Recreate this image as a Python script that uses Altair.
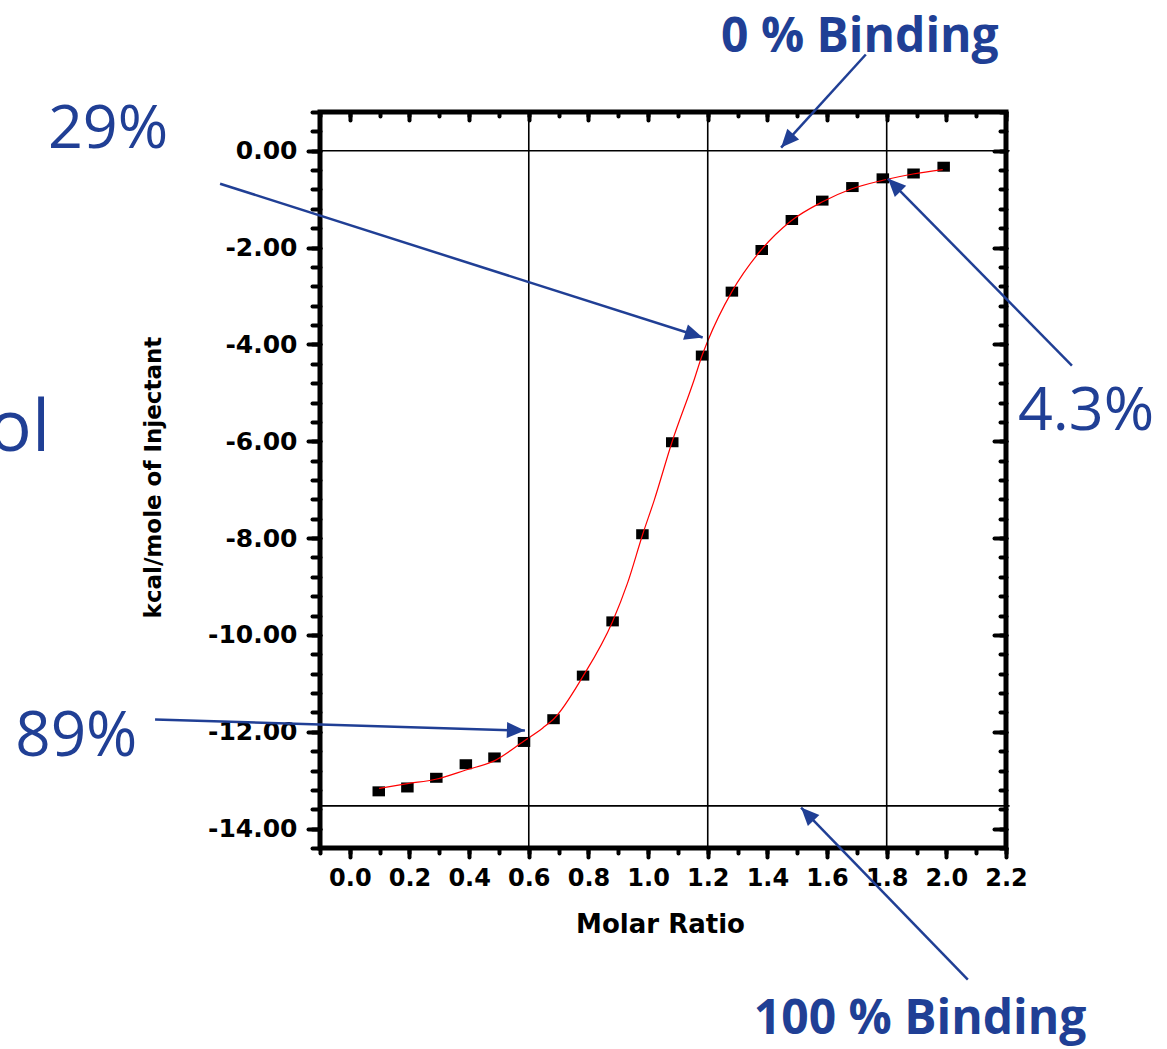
import math
import altair as alt
import pandas as pd

# Integrated heats per injection (kcal/mole of injectant) vs. molar ratio
ratio = [0.097, 0.193, 0.290, 0.389, 0.485, 0.584, 0.683, 0.782, 0.881, 0.981,
         1.081, 1.181, 1.281, 1.381, 1.482, 1.584, 1.685, 1.787, 1.890, 1.991]
heat = [-13.23, -13.15, -12.95, -12.67, -12.53, -12.21, -11.74, -10.84, -9.72, -7.92,
        -6.02, -4.23, -2.91, -2.05, -1.43, -1.03, -0.75, -0.57, -0.47, -0.33]

# Fitted binding isotherm
fit_ratio = [0.098, 0.193, 0.288, 0.389, 0.484, 0.584, 0.647, 0.686, 0.781, 0.881,
             0.931, 0.982, 1.021, 1.080, 1.155, 1.181, 1.200, 1.281, 1.379, 1.479,
             1.583, 1.681, 1.787, 1.888, 1.988]
fit_heat = [-13.17, -13.07, -12.98, -12.79, -12.60, -12.19, -11.92, -11.72, -10.86, -9.72,
            -8.93, -7.92, -7.21, -6.02, -4.72, -4.23, -3.93, -2.91, -2.05, -1.45,
            -1.06, -0.79, -0.61, -0.48, -0.39]

# Reference levels: 0 % and 100 % binding, and marked molar ratios
binding_levels = [0.0, -13.53]
ratio_marks = [0.6, 1.2, 1.8]

# Annotations
note_text = ["0 % Binding", "100 % Binding", "29%", "4.3%", "89%", "ol"]
note_x = [1.710, 1.912, -1.012, 2.240, -1.122, -1.005]
note_y = [2.049, -18.25, 0.066, -5.758, -12.51, -6.21]
note_size = [48, 48, 61, 61, 62, 72]
note_weight = ["bold", "bold", "normal", "normal", "normal", "normal"]
note_align = ["center", "center", "left", "left", "left", "right"]

arrow_x0 = [1.730, -0.435, 2.421, -0.653, 2.072]
arrow_y0 = [1.987, -0.681, -4.436, -11.748, -17.116]
arrow_x1 = [1.446, 1.183, 1.804, 0.587, 1.513]
arrow_y1 = [0.066, -3.858, -0.574, -11.975, -13.564]

# Tick values
x_major = [round(0.2 * i, 1) for i in range(12)]
x_minor = [round(-0.1 + 0.1 * i, 1) for i in range(24)]
y_major = [float(-2 * i) for i in range(8)]
y_minor = [round(0.8 - 0.4 * i, 1) for i in range(39)]

W, H = 686, 736
X_DOMAIN = [-0.1, 2.2]
Y_DOMAIN = [-14.4, 0.8]
BLUE = "#203F95"
PX_X = W / (X_DOMAIN[1] - X_DOMAIN[0])
PX_Y = H / (Y_DOMAIN[1] - Y_DOMAIN[0])

xs = alt.Scale(domain=X_DOMAIN, nice=False, zero=False)
ys = alt.Scale(domain=Y_DOMAIN, nice=False, zero=False)


def tick_axis(orient, values, size, offset=0):
    return alt.Axis(orient=orient, values=values, tickSize=size, offset=offset,
                    labels=False, title=None, domain=False, grid=False)


points_df = pd.DataFrame({"ratio": ratio, "heat": heat})
points = alt.Chart(points_df).mark_point(
    shape="M-1.25,-1H1.25V1H-1.25Z", size=100, filled=True, color="black", opacity=1
).encode(
    x=alt.X("ratio:Q", scale=xs, axis=alt.Axis(
        orient="bottom", values=x_major, tickSize=9, labelPadding=9, format=".1f",
        title="Molar Ratio", titleFontSize=26, titleX=340, titleY=84,
        titleBaseline="alphabetic", titleAlign="center")),
    y=alt.Y("heat:Q", scale=ys, axis=alt.Axis(
        orient="left", values=y_major, tickSize=12, labelPadding=11, labelFontSize=25,
        labelExpr="(datum.value < 0 ? '-' : '') + format(abs(datum.value), '.2f')",
        title="kcal/mole of Injectant", titleFontSize=23, titleX=-167, titleY=365,
        titleAngle=270, titleAlign="center", titleBaseline="middle")),
)

fit_df = pd.DataFrame({"ratio": fit_ratio, "heat": fit_heat})
curve = alt.Chart(fit_df).mark_line(color="red", strokeWidth=1.2, interpolate="monotone").encode(
    x=alt.X("ratio:Q", scale=xs, axis=tick_axis("bottom", x_minor, 5)),
    y=alt.Y("heat:Q", scale=ys, axis=tick_axis("left", y_minor, 8)),
)

vrules = alt.Chart(pd.DataFrame({"ratio": ratio_marks})).mark_rule(
    color="black", strokeWidth=1.6
).encode(x=alt.X("ratio:Q", scale=xs, axis=None))

hrules_df = pd.DataFrame({"level": binding_levels,
                          "x0": [X_DOMAIN[0]] * 2, "x1": [2.212] * 2})
hrules = alt.Chart(hrules_df).mark_rule(color="black", strokeWidth=1.6).encode(
    x=alt.X("x0:Q", scale=xs, axis=tick_axis("top", x_major, 8, offset=-8)),
    x2="x1:Q",
    y=alt.Y("level:Q", scale=ys, axis=tick_axis("right", y_major, 12, offset=-12)),
)

angles = []
for a, b, c, d in zip(arrow_x0, arrow_y0, arrow_x1, arrow_y1):
    dx = (c - a) * PX_X
    dy = -(d - b) * PX_Y
    angles.append(math.degrees(math.atan2(dx, -dy)) % 360)

arrows_df = pd.DataFrame({"x0": arrow_x0, "y0": arrow_y0, "x1": arrow_x1,
                          "y1": arrow_y1, "angle": angles})
arrow_lines = alt.Chart(arrows_df).mark_rule(color=BLUE, strokeWidth=2.5).encode(
    x=alt.X("x0:Q", scale=xs, axis=tick_axis("top", x_minor, 4, offset=-4)),
    y=alt.Y("y0:Q", scale=ys, axis=tick_axis("right", y_minor, 6, offset=-6)),
    x2="x1:Q",
    y2="y1:Q",
)
arrow_heads = alt.Chart(arrows_df).mark_point(
    shape="M0,0L-0.8,1.8L0.8,1.8Z", size=400, filled=True, color=BLUE, opacity=1
).encode(
    x=alt.X("x1:Q", scale=xs, axis=None),
    y=alt.Y("y1:Q", scale=ys, axis=None),
    angle=alt.Angle("angle:Q", scale=None),
)

notes = []
for t, x, y, s, w, al in zip(note_text, note_x, note_y, note_size, note_weight, note_align):
    notes.append(
        alt.Chart(pd.DataFrame({"t": [t], "x": [x], "y": [y]})).mark_text(
            font="Open Sans", fontSize=s, fontWeight=w, align=al,
            baseline="alphabetic", color=BLUE
        ).encode(
            x=alt.X("x:Q", scale=xs, axis=None),
            y=alt.Y("y:Q", scale=ys, axis=None),
            text="t:N",
        )
    )

chart = alt.layer(
    points, curve, vrules, hrules, arrow_lines, arrow_heads, *notes
).resolve_scale(
    x="shared", y="shared"
).resolve_axis(
    x="independent", y="independent"
).properties(
    width=W, height=H,
    padding={"left": 320, "top": 112, "right": 161, "bottom": 201},
    autosize=alt.AutoSizeParams(type="none"),
    background="white",
).configure_view(
    stroke="black", strokeWidth=5
).configure_axis(
    labelFont="DejaVu Sans", labelFontWeight="bold", labelFontSize=24,
    labelColor="black", tickColor="black", tickWidth=4, tickCap="round",
    titleFont="DejaVu Sans", titleFontWeight="bold", titleColor="black",
    labelFlush=False, labelOverlap=False, domain=False, grid=False,
)

chart.save("out.html", embed_options={"renderer": "svg", "actions": False})
